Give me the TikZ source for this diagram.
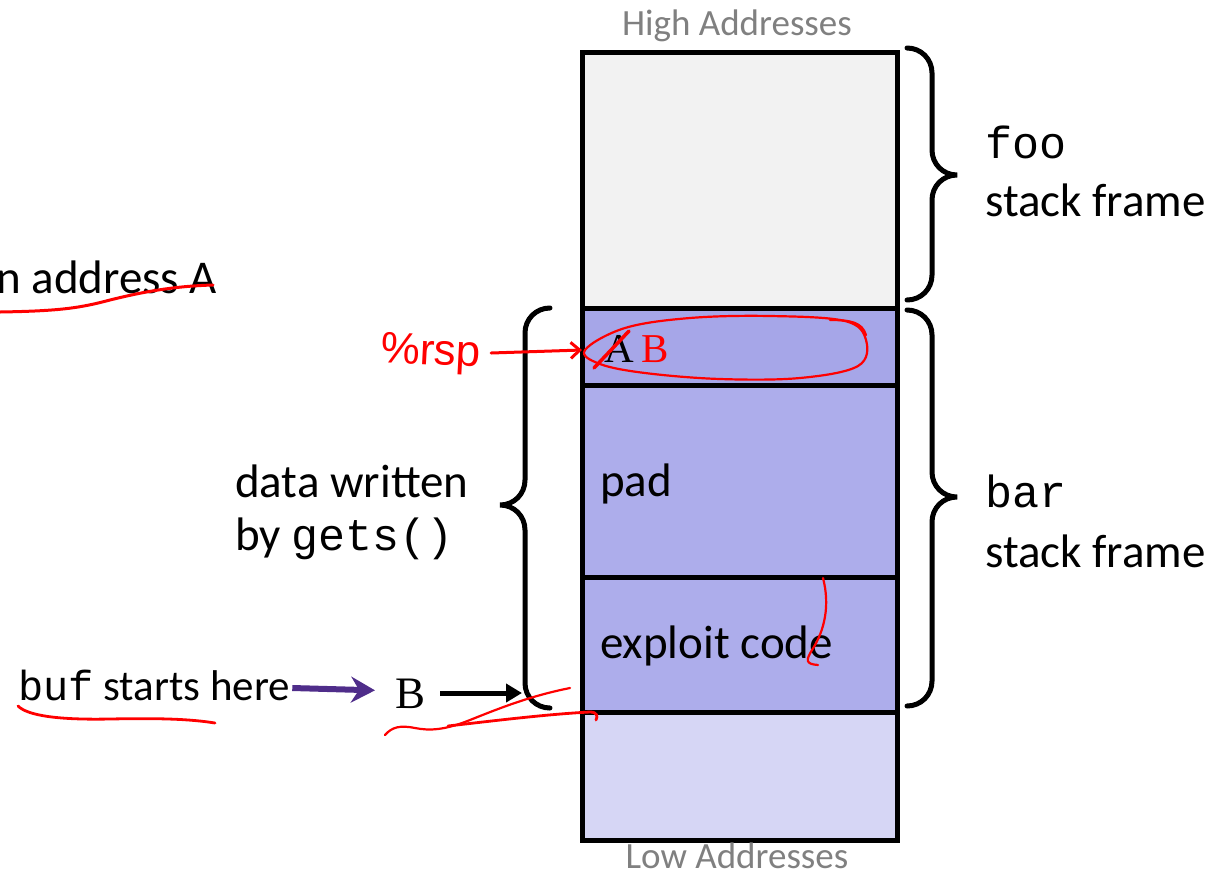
\documentclass[tikz,border=0pt]{standalone}
\usepackage{fontspec}
\setmainfont{Carlito}
\setmonofont{Liberation Mono}
\newfontfamily\timesf{Liberation Serif}
\newfontfamily\handf{Liberation Sans}
\usetikzlibrary{arrows.meta}
\definecolor{foocol}{HTML}{F2F2F2}
\definecolor{retcol}{HTML}{A6A6E8}
\definecolor{padcol}{HTML}{ADADEB}
\definecolor{lowcol}{HTML}{D6D6F5}
\definecolor{graytxt}{HTML}{808080}
\definecolor{purp}{HTML}{4F2D8A}
\definecolor{inkred}{HTML}{FF0000}
\begin{document}
\begin{tikzpicture}[x=1pt,y=-1pt,
  cell/.style={draw=black,line width=5pt,minimum width=315pt,inner sep=0pt,anchor=north west},
  big/.style={font=\fontsize{47}{56}\selectfont,inner sep=0pt,anchor=base west},
  addr/.style={font=\fontsize{37}{44}\selectfont,text=graytxt,inner sep=0pt,anchor=base},
  brace/.style={line width=5pt,line cap=round},
  ink/.style={draw=inkred,line width=2.2pt,line cap=round,line join=round},
]
\useasboundingbox (0,0) rectangle (1228,876);
% stack cells
\node[cell,fill=foocol,minimum height=256pt] (foo) at (580,50) {};
\node[cell,fill=retcol,minimum height=77pt] (ret) at (580,306) {};
\node[cell,fill=padcol,minimum height=192pt] (pad) at (580,383) {};
\node[cell,fill=padcol,minimum height=135pt] (expl) at (580,575) {};
\node[cell,fill=lowcol,minimum height=128pt] (low) at (580,710) {};
% address labels
\node[addr] (hi) at (737,35) {High Addresses};
\node[addr] (lo) at (737,868) {Low Addresses};
% cell texts
\node[big] (padt) at (600,496) {pad};
\node[big] (exlt) at (600,658) {exploit code};
\node[font=\timesf\fontsize{41}{48}\selectfont,inner sep=0pt,anchor=base west] (at) at (604,362) {A};
\node[font=\timesf\fontsize{41}{48}\selectfont,text=inkred,inner sep=0pt,anchor=base west] (bt) at (641,362) {B};
% right braces
\draw[brace] (907,48) .. controls (921,48) and (932,59) .. (932,73) -- (932,150) .. controls (932,164) and (943,175) .. (957,175) .. controls (943,175) and (932,186) .. (932,200) -- (932,275) .. controls (932,289) and (921,300) .. (907,300);
\draw[brace] (907,310) .. controls (921,310) and (932,321) .. (932,335) -- (932,472) .. controls (932,486) and (943,497) .. (957,497) .. controls (943,497) and (932,508) .. (932,522) -- (932,681) .. controls (932,695) and (921,706) .. (907,706);
% left brace
\draw[brace] (550,308) .. controls (536,308) and (525,319) .. (525,333) -- (525,480) .. controls (525,494) and (514,505) .. (500,505) .. controls (514,505) and (525,516) .. (525,530) -- (525,683) .. controls (525,697) and (536,708) .. (550,708);
% right labels
\node[big,font=\ttfamily\fontsize{45}{54}\selectfont] (foot) at (985,158) {foo};
\node[big] (foos) at (985,216) {stack frame};
\node[big,font=\ttfamily\fontsize{45}{54}\selectfont] (bart) at (985,507) {bar};
\node[big] (bars) at (985,567) {stack frame};
% left labels
\node[big] (data1) at (235,497) {data written};
\node[big] (data2) at (235,550) {by {\ttfamily\fontsize{45}{54}\selectfont gets()}};
\node[big] (ret2) at (-4,293) {n address A};
\node[big,font=\fontsize{43}{52}\selectfont] (buf) at (18,700) {{\ttfamily\fontsize{42}{50}\selectfont buf} starts here};
\node[font=\timesf\fontsize{45}{54}\selectfont,inner sep=0pt,anchor=base west] (bb) at (395,708) {B};
\coordinate (bufpt) at (522,693);
% arrows
\draw[purp,line width=6pt,-{Stealth[length=24pt,width=26pt,inset=8pt]}] ([xshift=2pt]buf.east |- 0,688) -- ([xshift=-20pt,yshift=3pt]bb.west);
\draw[black,line width=5pt,-{Triangle[length=16pt,width=18pt]}] ([xshift=15pt]bb.east |- bufpt) -- (bufpt);
% handwritten %rsp
\node[font=\handf\fontsize{44}{50}\selectfont,text=inkred,inner sep=0pt,anchor=base west,rotate=-3] (rsp) at (380,362) {\%rsp};
\coordinate (rsptip) at (582,350);
\draw[ink,line width=3pt,-{Straight Barb[length=9pt,width=16pt,line width=3pt]}] ([xshift=10pt]rsp.east |- 0,353) -- (rsptip);
% red annotations
\draw[ink,line width=3pt] (0,312) .. controls (60,311) and (80,308) .. (110,300) .. controls (150,290) and (180,286) .. (213,285);
\draw[ink,line width=3.5pt] (594,368) -- (629,331);
\draw[ink] plot[smooth cycle,tension=0.6] coordinates {(585,350) (625,328) (690,318) (770,316) (845,321) (866,340) (858,366) (800,378) (720,379) (645,373) (600,364)};
\draw[ink] (830,320) .. controls (850,320) and (862,322) .. (866,335);
\draw[ink] (823,578) .. controls (830,605) and (825,630) .. (812,650) .. controls (806,660) and (805,664) .. (818,665);
\draw[ink,line width=2.8pt] (18,706) .. controls (28,716) and (60,720) .. (110,719) .. controls (160,718) and (190,719) .. (215,723);
\draw[ink] (385,735) .. controls (392,727) and (400,725) .. (415,728) .. controls (430,731) and (445,730) .. (470,720) .. controls (500,708) and (530,696) .. (570,688);
\draw[ink,line width=2.8pt] (448,726) .. controls (500,720) and (550,714) .. (590,712) .. controls (597,712) and (598,716) .. (596,720);
\end{tikzpicture}
\end{document}
